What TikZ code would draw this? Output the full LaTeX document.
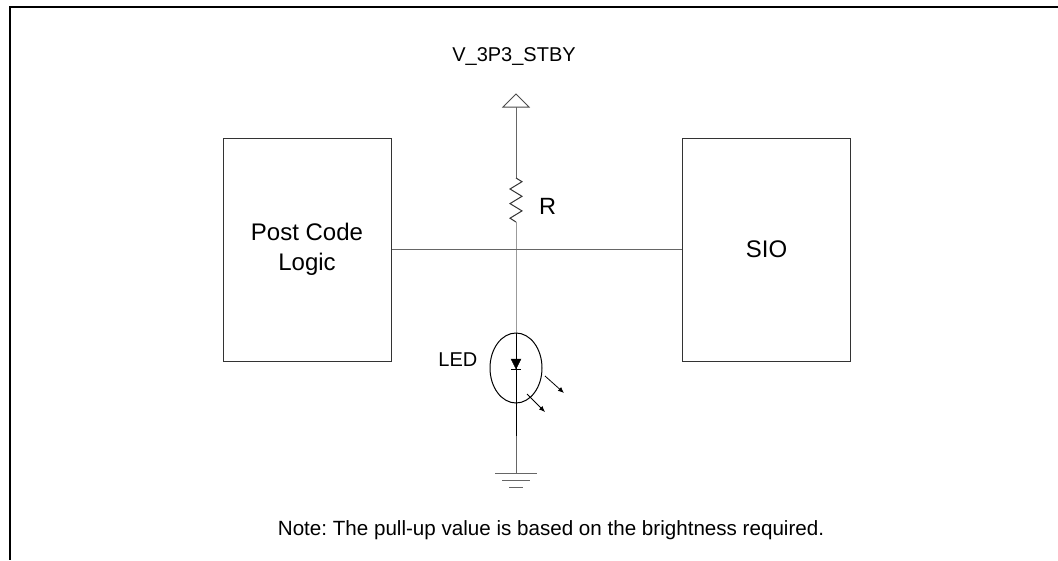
\documentclass[tikz,border=0pt]{standalone}
\usepackage{fontspec}
\setmainfont{Liberation Sans}
\usetikzlibrary{arrows.meta,shapes.geometric}
\frenchspacing

\begin{document}
\begin{tikzpicture}[x = 1pt, y = -1pt,
	block/.style = {draw = black!80, line width = 1pt, minimum width = 168pt, minimum height = 223pt, align = center, font = \fontsize{24}{30}\selectfont},
	wire/.style = {draw = black!60, line width = 1pt},
	lbl/.style = {inner sep = 0pt},
	ray/.style = {line width = 0.8pt, -{Latex[length = 6pt, width = 5pt]}}]
	\useasboundingbox (0,0) rectangle (1058,560);
	\draw [line width = 2pt] (1058,7) -- (10.3,7) -- (10.3,560);
	\node [block] (pcl) at (307,249.5) {Post Code\\Logic};
	\node [block] (sio) at (766.5,249.5) {SIO};
	\coordinate (j) at (516,249.5);
	\coordinate (vcc) at (516,107);
	\coordinate (rtop) at (516,178);
	\coordinate (rbot) at (516,222);
	\coordinate (gnd) at (516,473);
	\draw [wire] (pcl.east) -- (sio.west);
	% supply
	\draw [wire, draw = black!70] (vcc) -- ++(-13,0) -- ++(13,-13) -- ++(13,13) -- cycle;
	\node [lbl, anchor = base, font = \fontsize{20}{24}\selectfont] (vlbl) at (514,61) {V\_3P3\_STBY};
	\draw [wire] (vcc) -- (rtop);
	\draw [wire, draw = black!80] (rtop) -- ++(6,3.7) -- ++(-12,7.3) -- ++(12,7.3) -- ++(-12,7.3) -- ++(12,7.3) -- ++(-12,7.3) -- (rbot);
	\draw [wire] (rbot) -- (j) -- (gnd);
	\node [lbl, anchor = base west, font = \fontsize{23.5}{28}\selectfont] (rlbl) at (539,214) {R};
	% led
	\node [draw, ellipse, line width = 1pt, minimum width = 52pt, minimum height = 70pt, inner sep = 0pt] (led) at (516,368) {};
	\draw [line width = 1pt] (led.north) -- ([yshift = -32pt]led.south);
	\draw [fill = black] ([xshift = -5pt, yshift = 9pt]led.center) -- ++(10,0) -- ++(-5,10) -- cycle;
	\draw [line width = 1pt] ([xshift = -5pt, yshift = -1pt]led.center) -- ++(10,0);
	\draw [ray] ([xshift = 29pt, yshift = -8pt]led.center) -- ++(19,17);
	\draw [ray] ([xshift = 11pt, yshift = -26pt]led.center) -- ++(18,18);
	\node [lbl, anchor = east, font = \fontsize{20}{24}\selectfont] (ledlbl) at ([xshift = -12pt, yshift = 8pt]led.west) {LED};
	% ground
	\foreach \w/\d in {21/0, 14/7, 7/14}{
		\draw [wire] ([xshift = -\w pt, yshift = -\d pt]gnd) -- ++(2*\w,0);
	}
	\node [lbl, anchor = base west, font = \fontsize{20.6}{24}\selectfont] (note) at (277.7,535) {Note: The pull-up value is based on the brightness required.};
\end{tikzpicture}
\end{document}
